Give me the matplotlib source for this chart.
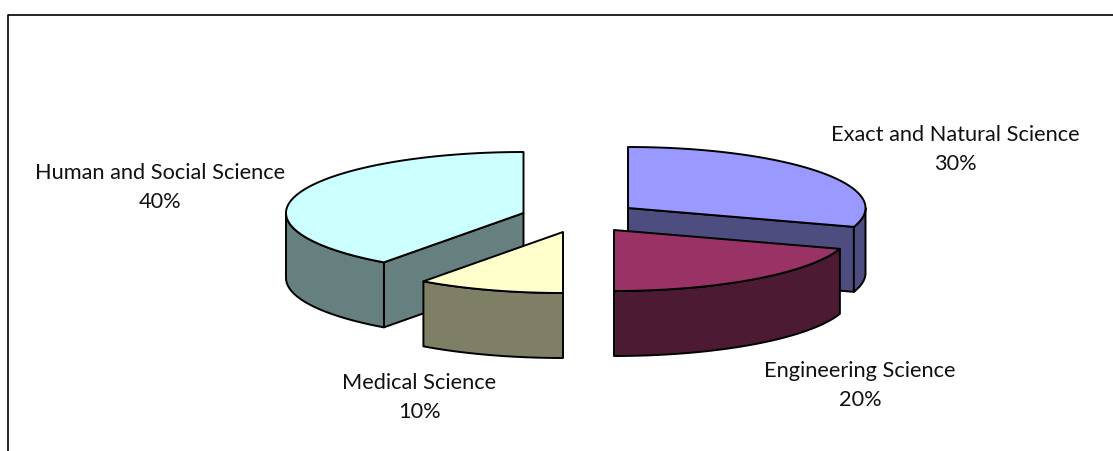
import numpy as np
import matplotlib
matplotlib.use('Agg')
import matplotlib.pyplot as plt
from matplotlib.patches import Polygon

categories = ['Exact and Natural Science', 'Engineering Science', 'Medical Science', 'Human and Social Science']
shares = [30, 20, 10, 40]

top_colors = ['#9999FF', '#993366', '#FFFFCC', '#CCFFFF']
side_colors = ['#4D4D80', '#4D1A33', '#7F7F66', '#667F7F']
centers = [(628, 209), (614, 231), (563, 233), (523.5, 214)]
label_pos = [(955, 149.5), (860, 385.5), (419, 397.5), (160, 187.5)]
draw_order = [0, 3, 1, 2]

rx, ry, depth = 237.5, 61, 65

plt.rcParams['font.family'] = ['Lato', 'DejaVu Sans']
fig = plt.figure(figsize=(11.13, 4.52), dpi=100)
ax = fig.add_axes([0, 0, 1, 1])
ax.set_xlim(0, 1113)
ax.set_ylim(452, 0)
ax.axis('off')


def rim(cx, cy, a, b):
    # angles clockwise from 12 o'clock, degrees
    t = np.radians(np.linspace(a, b, 120))
    return np.column_stack([cx + rx * np.sin(t), cy - ry * np.cos(t)])


def wall(c, p, **kw):
    c, p = np.array(c), np.array(p)
    down = np.array([0, depth])
    ax.add_patch(Polygon([c, p, p + down, c + down], **kw))


def draw_slice(i, a, b):
    cx, cy = centers[i]
    arc = rim(cx, cy, a, b)
    kw = dict(edgecolor='black', linewidth=1.4, joinstyle='round', zorder=2 + draw_order.index(i))
    side = dict(facecolor=side_colors[i], **kw)
    # cut faces that turn toward the viewer
    if b < 180:
        wall((cx, cy), arc[-1], **side)
    if a > 180:
        wall((cx, cy), arc[0], **side)
    # outer rim, only where it faces front (90..270)
    lo, hi = max(a, 90), min(b, 270)
    if lo < hi:
        r = rim(cx, cy, lo, hi)
        ax.add_patch(Polygon(np.vstack([r, r[::-1] + [0, depth]]), **side))
    ax.add_patch(Polygon(np.vstack([[cx, cy], arc]), facecolor=top_colors[i], **kw))


edges = np.cumsum([0] + shares) * 3.6
for i in draw_order:
    draw_slice(i, edges[i], edges[i + 1])

for i, name in enumerate(categories):
    ax.text(label_pos[i][0], label_pos[i][1], '%s\n%d%%' % (name, shares[i]), ha='center', va='center',
            fontsize=15.7, color='#111111', linespacing=1.6, zorder=20)

# chart frame, cut off at the right and bottom of the picture
ax.plot([7.5, 7.5, 1113], [452, 15.5, 15.5], color='black', linewidth=1.2, zorder=1)

fig.savefig('out.png', dpi=100)
